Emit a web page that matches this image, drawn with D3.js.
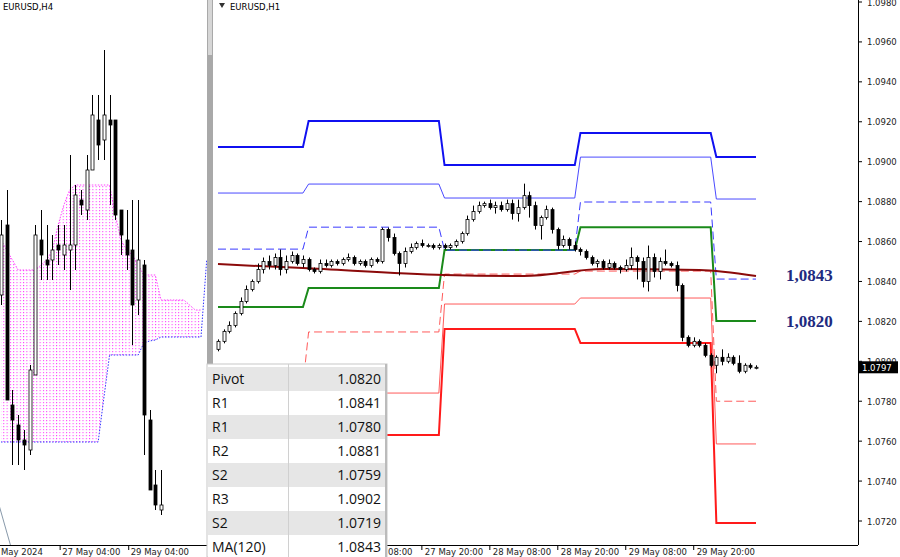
<!DOCTYPE html>
<html><head><meta charset="utf-8">
<script src="https://cdn.jsdelivr.net/npm/d3@7"></script>
<style>body{margin:0;background:#fff}svg{display:block}</style>
</head><body><svg id="c" width="900" height="557"></svg>
<script>
// ---- H1 candles (close per bar, wick extensions in pips) ----
const firstOpen = 1.0806;
const h1Close = [
  1.0810,1.0815,1.0818,1.0824,1.0830,1.0836,1.0840,1.0846,1.0850,1.0848,
  1.0852,1.0846,1.0850,1.0853,1.0849,1.0851,1.0846,1.0845,1.0849,1.0848,
  1.0850,1.0849,1.0851,1.0852,1.0849,1.0850,1.0848,1.0851,1.0850,1.0866,
  1.0862,1.0854,1.0849,1.0855,1.0857,1.0859,1.0858,1.0858,1.0857,1.0858,
  1.0857,1.0858,1.0860,1.0864,1.0871,1.0875,1.0878,1.0879,1.0877,1.0878,
  1.0876,1.0879,1.0874,1.0877,1.0883,1.0878,1.0868,1.0872,1.0876,1.0866,
  1.0858,1.0861,1.0858,1.0856,1.0855,1.0852,1.0849,1.0850,1.0847,1.0849,
  1.0847,1.0846,1.0848,1.0852,1.0850,1.0840,1.0852,1.0845,1.0850,1.0849,
  1.0848,1.0838,1.0812,1.0808,1.0810,1.0808,1.0803,1.0798,1.0802,1.0800,
  1.0802,1.0799,1.0795,1.0798,1.0797,1.0797];
const wickUp = [1,1,2,1,2,2,1,3,2,3, 2,4,3,2,1,2,1,1,2,2, 1,1,1,2,1,1,1,1,1,1,
  1,2,1,2,2,1,2,1,1,1, 1,1,1,1,2,3,2,1,2,2, 2,2,2,4,6,2,2,1,2,1,
  1,2,1,2,1,1,1,1,1,2, 1,1,3,5,1,2,6,2,2,6, 1,2,1,1,2,1,1,1,1,4, 2,1,4,1,1,1];
const wickDn = [1,1,1,1,1,1,1,1,2,2, 2,3,2,1,1,2,1,1,1,1, 1,1,1,1,1,1,1,1,1,1,
  2,1,6,2,1,1,1,1,1,1, 1,1,1,1,1,1,1,1,1,3, 1,1,3,4,1,6,2,7,1,2,
  2,1,2,1,2,1,1,2,1,1, 1,2,1,2,9,3,5,3,4,1, 1,3,2,1,1,1,1,1,4,2, 1,1,1,1,1,1];

// ---- daily pivot levels, one value per day segment ----
const dayStarts = [0, 16, 40, 64, 88];
const lastBar = 95;
const levelR3 = [1.09073, 1.09204, 1.08983, 1.09144, 1.09023];
const levelR2 = [1.08843, 1.08888, 1.08818, 1.09023, 1.08813];
const levelR1 = [1.08562, 1.08672, 1.08557, 1.08798, 1.08412];
const levelPivot = [1.08272, 1.08367, 1.08557, 1.08672, 1.08202];
const levelS1 = [1.0788, 1.08147, 1.08437, 1.08452, 1.0780];
const levelS2 = [1.0771, 1.07841, 1.08287, 1.08317, 1.07586];
const levelS3 = [1.0751, 1.07631, 1.08162, 1.08092, 1.07190];
const maIdx = [0, 15, 40, 54, 68, 85, 95];
const maVal = [1.08487, 1.08467, 1.08432, 1.08427, 1.08462, 1.08457, 1.08427];

const yTicks = [1.0980,1.0960,1.0940,1.0920,1.0900,1.0880,1.0860,1.0840,1.0820,1.0800,1.0780,1.0760,1.0740,1.0720];
const xTickIdx = [36, 48, 60, 72, 84];
const xTickLabels = ['27 May 20:00','28 May 08:00','28 May 20:00','29 May 08:00','29 May 20:00'];

// ---- H4 panel ----
const h4Open  = [1.0840,1.0854,1.0818,1.0814,1.0811,1.0809,1.0824,1.0851,1.0847,1.0847,1.0850,1.0848,1.0849,1.0850,1.0859,1.0857,1.0865,1.0875,1.0871,1.0875,1.0875,1.0857,1.0851,1.0849,1.0839,1.0846,1.0815,1.0802,1.0797];
const h4High  = [1.0855,1.0861,1.0821,1.0816,1.0813,1.0826,1.0854,1.0857,1.0854,1.0852,1.0854,1.0854,1.0868,1.0862,1.0861,1.0868,1.0880,1.0880,1.0889,1.0880,1.0875,1.0857,1.0857,1.0859,1.0859,1.0847,1.0817,1.0805,1.0805];
const h4Low   = [1.0838,1.0819,1.0806,1.0806,1.0805,1.0808,1.0824,1.0843,1.0843,1.0843,1.0846,1.0845,1.0841,1.0845,1.0856,1.0855,1.0865,1.0867,1.0867,1.0858,1.0855,1.0848,1.0845,1.0830,1.0836,1.0808,1.0801,1.0797,1.0796];
const h4Close = [1.0852,1.0819,1.0815,1.0811,1.0810,1.0825,1.0852,1.0848,1.0846,1.0849,1.0849,1.0850,1.0850,1.0860,1.0858,1.0865,1.0876,1.0870,1.0876,1.0874,1.0856,1.0852,1.0848,1.0838,1.0847,1.0816,1.0801,1.0798,1.0798];
const spanA = [1.0851,1.0849,1.0847,1.0845,1.0845,1.0845,1.0845,1.0846,1.0847,1.0849,1.0854,1.0858,1.0861,1.0862,1.0862,1.0862,1.0862,1.0862,1.0862,1.0862,1.0856,1.0851,1.0849,1.0848,1.0846,1.0844,1.0844,1.0844,1.0839,1.0839,1.0839,1.0839,1.0839,1.0838,1.0837,1.0837];
const spanB = [1.08106,1.08106,1.08106,1.08106,1.08106,1.08106,1.08106,1.08106,1.08106,1.08106,1.08106,1.08106,1.08106,1.08106,1.08106,1.08106,1.08106,1.08106,1.08194,1.0828,1.0828,1.0828,1.0828,1.0828,1.0828,1.08304,1.08308,1.0831,1.08316,1.08316,1.08316,1.08316,1.08316,1.08316,1.08316,1.08316];
const chikouIdx = [0, 1, 2];
const chikouVal = [1.0798, 1.0794, 1.0790];
const h4TickIdx = [10, 22];
const h4TickLabels = ['27 May 04:00', '29 May 04:00'];

const tableRows = [['Pivot','1.0820'],['R1','1.0841'],['R1','1.0780'],['R2','1.0881'],['S2','1.0759'],['R3','1.0902'],['S2','1.0719'],['MA(120)','1.0843']];

const svg = d3.select('#c');
const defs = svg.append('defs');
defs.append('clipPath').attr('id','mainClip').append('rect').attr('x',213).attr('y',0).attr('width',645).attr('height',545);
defs.append('clipPath').attr('id','leftClip').append('rect').attr('x',0).attr('y',0).attr('width',207).attr('height',545);
const pat = defs.append('pattern').attr('id','cloudPat').attr('patternUnits','userSpaceOnUse').attr('width',3.3).attr('height',3);
pat.append('rect').attr('x',0).attr('y',0).attr('width',1).attr('height',1.2).attr('fill','#ff40ff');

// ===== main H1 panel =====
const x = d3.scaleLinear().domain([0, 95]).range([218, 756]);
const y = d3.scaleLinear().domain([1.0980, 1.0720]).range([2, 521]);
const pip = 0.0001;
const bars = h1Close.map((c, i) => {
  const o = i === 0 ? firstOpen : h1Close[i - 1];
  return {i, o, c, h: Math.max(o, c) + wickUp[i] * pip, l: Math.min(o, c) - wickDn[i] * pip};
});

const main = svg.append('g').attr('clip-path','url(#mainClip)');

function stepPoints(levels) {
  const pts = [];
  levels.forEach((v, k) => {
    const s = dayStarts[k];
    const e = k + 1 < dayStarts.length ? dayStarts[k + 1] - 1 : lastBar;
    pts.push([s, v], [e, v]);
  });
  return pts;
}
const lineGen = d3.line().x(d => x(d[0])).y(d => y(d[1]));
const levelDefs = [
  [levelS3, '#ff1a1a', 2, null],
  [levelS2, '#ff5a5a', 1, null],
  [levelS1, '#ff5a5a', 1, '8,4'],
  [levelPivot, '#1a8a1a', 2, null],
  [levelR1, '#3a3aff', 1, '8,4'],
  [levelR2, '#4a4aff', 1, null],
  [levelR3, '#1010f0', 2, null]
];
levelDefs.forEach(([lv, col, w, dash]) => {
  main.append('path').attr('d', lineGen(stepPoints(lv))).attr('fill','none')
    .attr('stroke', col).attr('stroke-width', w).attr('stroke-dasharray', dash);
});
main.append('path')
  .attr('d', d3.line().x((d,k) => x(maIdx[k])).y(d => y(d)).curve(d3.curveMonotoneX)(maVal))
  .attr('fill','none').attr('stroke','#8b0a0a').attr('stroke-width',2);

const cg = main.append('g');
bars.forEach(b => {
  const cx = Math.round(x(b.i)) + 0.5;
  cg.append('line').attr('x1',cx).attr('x2',cx).attr('y1',y(b.h)).attr('y2',y(b.l)).attr('stroke','#000');
  const top = y(Math.max(b.o,b.c)), bot = y(Math.min(b.o,b.c));
  cg.append('rect').attr('x',cx-1.5).attr('y',top).attr('width',3).attr('height',Math.max(1,bot-top))
    .attr('fill', b.c >= b.o ? '#fff' : '#000').attr('stroke','#000').attr('stroke-width',0.8);
});

// right price axis
svg.append('line').attr('x1',858.5).attr('x2',858.5).attr('y1',0).attr('y2',545).attr('stroke','#000');
svg.append('line').attr('x1',213).attr('x2',858).attr('y1',545.5).attr('y2',545.5).attr('stroke','#000');
yTicks.forEach(t => {
  svg.append('line').attr('x1',858).attr('x2',862).attr('y1',y(t)).attr('y2',y(t)).attr('stroke','#000');
  svg.append('text').attr('x',867).attr('y',y(t)+3.5).text(t.toFixed(4))
    .attr('font-family','DejaVu Sans').attr('font-size',8.5).attr('fill','#222');
});
svg.append('rect').attr('x',859).attr('y',y(1.0797)-6).attr('width',39).attr('height',12).attr('fill','#000');
svg.append('text').attr('x',862).attr('y',y(1.0797)+3.5).text('1.0797').attr('fill','#fff')
  .attr('font-family','DejaVu Sans').attr('font-size',8.5);
xTickIdx.forEach((ix, k) => {
  const xx = x(ix);
  svg.append('line').attr('x1',xx).attr('x2',xx).attr('y1',545).attr('y2',550).attr('stroke','#000');
  svg.append('text').attr('x',xx+3).attr('y',555).text(xTickLabels[k])
    .attr('font-family','DejaVu Sans').attr('font-size',8.5).attr('fill','#222');
});
svg.append('text').attr('x',388).attr('y',555).text('08:00').attr('font-family','DejaVu Sans').attr('font-size',8.5).attr('fill','#222');

// callouts
[['1,0843', 1.0843], ['1,0820', 1.0820]].forEach(([t, v]) => {
  svg.append('text').attr('x',786).attr('y',y(v)+6).text(t)
    .attr('font-family','Liberation Serif').attr('font-weight','bold').attr('font-size',17).attr('fill','#1e2a80');
});
svg.append('path').attr('d','M219,3 L225,3 L222,8 Z').attr('fill','#333');
svg.append('text').attr('x',230).attr('y',10).text('EURUSD,H1').attr('font-family','DejaVu Sans').attr('font-size',8.5).attr('fill','#000');

// ===== left H4 panel =====
const xl = d3.scaleLinear().domain([0, 28]).range([1, 161]);
const yl = d3.scaleLinear().domain([1.0797, 1.0889]).range([510, 50]);
const left = svg.append('g').attr('clip-path','url(#leftClip)');
const areaGen = d3.area().x((d,k) => xl(k)).y0((d,k) => yl(spanB[k])).y1(d => yl(d));
left.append('path').attr('d', areaGen(spanA)).attr('fill','url(#cloudPat)');
left.append('path').attr('d', d3.line().x((d,k) => xl(k)).y(d => yl(d))(spanA))
  .attr('fill','none').attr('stroke','#ff40ff').attr('stroke-dasharray','1.5,1.5');
left.append('path').attr('d', d3.line().x((d,k) => xl(k)).y(d => yl(d))(spanB))
  .attr('fill','none').attr('stroke','#3030ff').attr('stroke-dasharray','1.5,1.5');
left.append('line').attr('x1',xl(35)).attr('x2',xl(36)).attr('y1',yl(spanB[35])).attr('y2',yl(1.0847))
  .attr('stroke','#3030ff').attr('stroke-dasharray','1.5,1.5');
left.append('path').attr('d', d3.line().x((d,k) => xl(chikouIdx[k]) - 2).y(d => yl(d)).curve(d3.curveMonotoneX)(chikouVal))
  .attr('fill','none').attr('stroke','#8899aa');
h4Close.forEach((c, i) => {
  const o = h4Open[i], cx = Math.round(xl(i)) + 0.5;
  left.append('line').attr('x1',cx).attr('x2',cx).attr('y1',yl(h4High[i])).attr('y2',yl(h4Low[i])).attr('stroke','#000');
  const top = yl(Math.max(o,c)), bot = yl(Math.min(o,c));
  left.append('rect').attr('x',cx-1.5).attr('y',top).attr('width',3).attr('height',Math.max(1,bot-top))
    .attr('fill', c >= o ? '#fff' : '#000').attr('stroke','#000').attr('stroke-width',0.8);
});
svg.append('line').attr('x1',0).attr('x2',207).attr('y1',545.5).attr('y2',545.5).attr('stroke','#000');
svg.append('text').attr('x',1).attr('y',555).text('May 2024')
  .attr('font-family','DejaVu Sans').attr('font-size',8.5).attr('fill','#222');
h4TickIdx.forEach((ix, k) => {
  const xx = xl(ix) + 2;
  svg.append('line').attr('x1',xx).attr('x2',xx).attr('y1',545).attr('y2',550).attr('stroke','#000');
  svg.append('text').attr('x',xx+2).attr('y',555).text(h4TickLabels[k])
    .attr('font-family','DejaVu Sans').attr('font-size',8.5).attr('fill','#222');
});
svg.append('text').attr('x',3).attr('y',10).text('EURUSD,H4').attr('font-family','DejaVu Sans').attr('font-size',8.5).attr('fill','#000');

// splitter
svg.append('rect').attr('x',207).attr('y',0).attr('width',6).attr('height',557).attr('fill','#a9a9a9');
svg.append('rect').attr('x',208).attr('y',0).attr('width',4).attr('height',55).attr('fill','#d6d6d6');

// ===== value table =====
const tg = svg.append('g');
tg.append('rect').attr('x',207).attr('y',364).attr('width',180).attr('height',193).attr('fill','#fff').attr('stroke','#c8c8c8');
tableRows.forEach(([lab, val], r) => {
  const ty = 367 + r * 24;
  tg.append('rect').attr('x',208).attr('y',ty).attr('width',177).attr('height',24)
    .attr('fill', r % 2 === 0 ? '#e6e6e6' : '#fff');
  tg.append('text').attr('x',212).attr('y',ty+17).text(lab).attr('font-family','Open Sans').attr('font-size',14).attr('fill','#111');
  tg.append('text').attr('x',381).attr('y',ty+17).text(val).attr('text-anchor','end')
    .attr('font-family','Open Sans').attr('font-size',14).attr('fill','#111');
});
tg.append('line').attr('x1',288.5).attr('x2',288.5).attr('y1',364).attr('y2',557).attr('stroke','#d0d0d0');
tg.append('line').attr('x1',386).attr('x2',386).attr('y1',364).attr('y2',557).attr('stroke','#bbb').attr('stroke-width',2);
</script></body></html>
